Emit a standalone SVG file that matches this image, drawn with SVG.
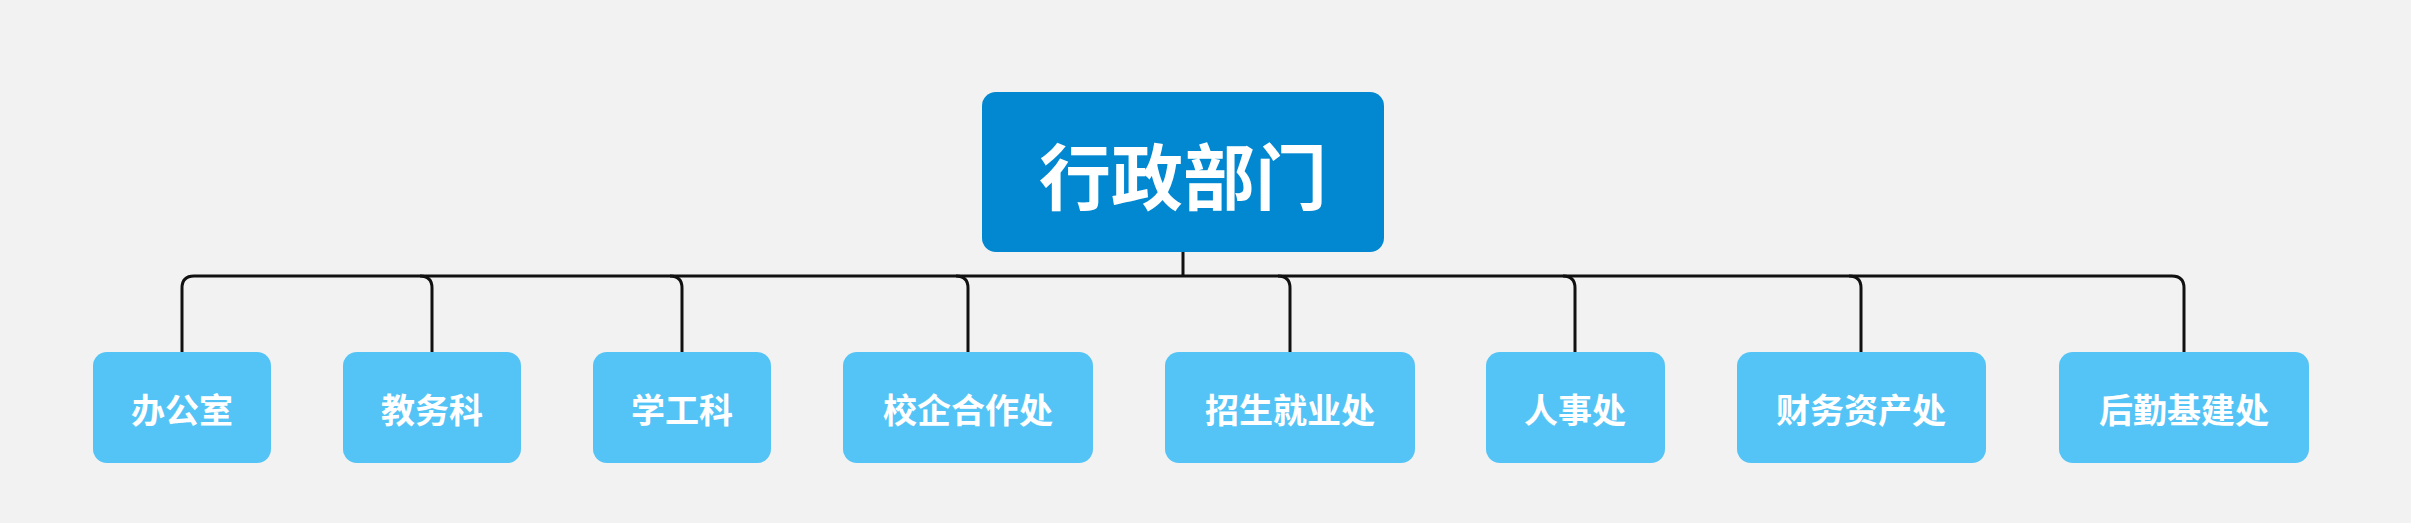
<svg xmlns="http://www.w3.org/2000/svg" width="2411" height="523" viewBox="0 0 2411 523">
<style>
.c{fill:#54C4F6}
.t{fill:#fff;font-family:"Noto Sans CJK SC",sans-serif;font-weight:bold;text-anchor:middle;dominant-baseline:central}
.s{font-size:34px}
.l{fill:none;stroke:#111;stroke-width:3}
</style>
<rect width="2411" height="523" fill="#F2F2F2"/>
<g id="connectors" class="l">
<path d="M1183 252V276"/>
<path d="M182 352V288Q182 276 194 276H2172Q2184 276 2184 288V352"/>
<path d="M420 276Q432 276 432 288V352"/>
<path d="M670 276Q682 276 682 288V352"/>
<path d="M956 276Q968 276 968 288V352"/>
<path d="M1278 276Q1290 276 1290 288V352"/>
<path d="M1563 276Q1575 276 1575 288V352"/>
<path d="M1849 276Q1861 276 1861 288V352"/>
</g>
<g id="root"><rect x="982" y="92" width="402" height="160" rx="14" fill="#0288D1"/><text class="t" x="1183" y="172" font-size="72">行政部门</text></g>
<g id="n1"><rect class="c" x="93" y="352" width="178" height="111" rx="14"/><text class="t s" x="182" y="408">办公室</text></g>
<g id="n2"><rect class="c" x="343" y="352" width="178" height="111" rx="14"/><text class="t s" x="432" y="408">教务科</text></g>
<g id="n3"><rect class="c" x="593" y="352" width="178" height="111" rx="14"/><text class="t s" x="682" y="408">学工科</text></g>
<g id="n4"><rect class="c" x="843" y="352" width="250" height="111" rx="14"/><text class="t s" x="968" y="408">校企合作处</text></g>
<g id="n5"><rect class="c" x="1165" y="352" width="250" height="111" rx="14"/><text class="t s" x="1290" y="408">招生就业处</text></g>
<g id="n6"><rect class="c" x="1486" y="352" width="179" height="111" rx="14"/><text class="t s" x="1575" y="408">人事处</text></g>
<g id="n7"><rect class="c" x="1737" y="352" width="249" height="111" rx="14"/><text class="t s" x="1861" y="408">财务资产处</text></g>
<g id="n8"><rect class="c" x="2059" y="352" width="250" height="111" rx="14"/><text class="t s" x="2184" y="408">后勤基建处</text></g>
</svg>
